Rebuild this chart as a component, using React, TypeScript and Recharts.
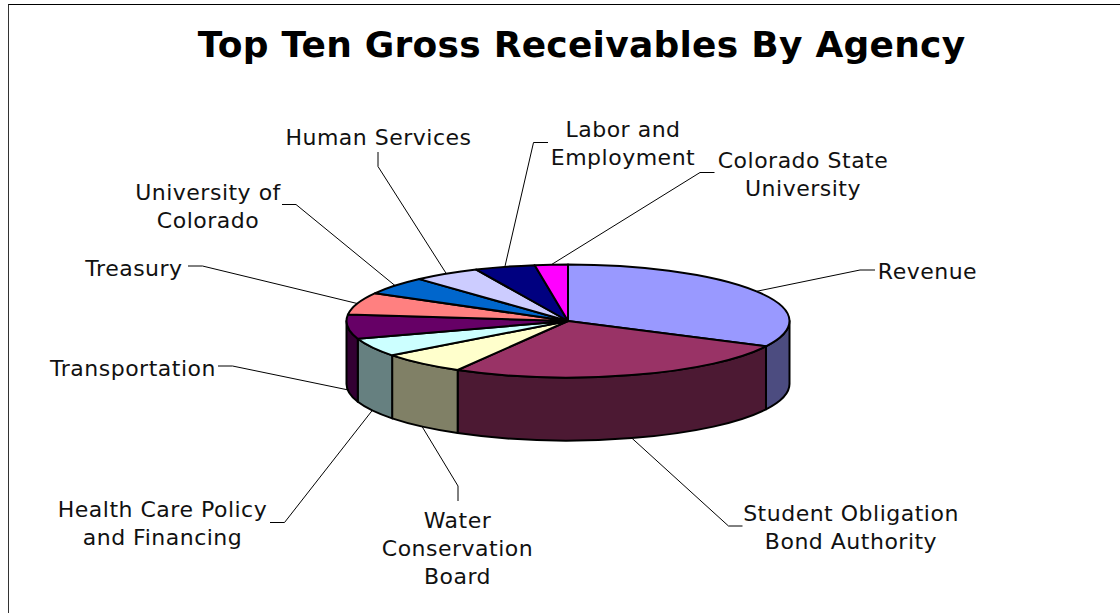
import { Pie, PieChart } from "recharts";

// Share of gross receivables by agency, in percent
const agencies = [
    "Revenue",
    "Student Obligation Bond Authority",
    "Water Conservation Board",
    "Health Care Policy and Financing",
    "Transportation",
    "Treasury",
    "University of Colorado",
    "Human Services",
    "Labor and Employment",
    "Colorado State University",
];
const shares = [32.4, 25.9, 6.3, 5.3, 6.9, 6.4, 5.1, 4.9, 4.4, 2.4];
const topColors = ["#9999FF", "#993366", "#FFFFCC", "#CCFFFF", "#660066", "#FF8080", "#0066CC", "#CCCCFF", "#000080", "#FF00FF"];
const sideColors = ["#4C4C80", "#4C1933", "#808066", "#668080", "#330033", "#804040", "#003366", "#666680", "#000040", "#800080"];

const data = agencies.map((name, i) => ({
    name,
    value: shares[i],
    fill: topColors[i],
    side: sideColors[i],
}));

// Wrapped label text, its centre and first baseline, and the leader's knee and end
const labelLayout = [
    { lines: ["Revenue"], x: 927.5, y: 279, knee: [860, 270], end: [875, 270] },
    { lines: ["Student Obligation", "Bond Authority"], x: 851, y: 520.5, knee: [728.5, 526], end: [742.5, 526] },
    { lines: ["Water", "Conservation", "Board"], x: 457.5, y: 528, knee: [458, 486], end: [458, 501] },
    { lines: ["Health Care Policy", "and Financing"], x: 162.5, y: 516.5, knee: [284.5, 522.5], end: [270, 522.5] },
    { lines: ["Transportation"], x: 133, y: 375.5, knee: [232.5, 366], end: [218, 366] },
    { lines: ["Treasury"], x: 134, y: 275.5, knee: [202.5, 266], end: [188, 266] },
    { lines: ["University of", "Colorado"], x: 208, y: 199.5, knee: [296, 204.5], end: [282, 204.5] },
    { lines: ["Human Services"], x: 378.5, y: 144.5, knee: [378, 166.5], end: [378, 152] },
    { lines: ["Labor and", "Employment"], x: 623, y: 136.5, knee: [533.5, 142.5], end: [548, 142.5] },
    { lines: ["Colorado State", "University"], x: 803, y: 168, knee: [700, 172.5], end: [714.5, 172.5] },
];

const FONT = "'DejaVu Sans', sans-serif";
const TILT = 56.5 / 221.5;
const DEPTH = 63;
const LINE_HEIGHT = 28;

const rad = (deg: number) => (deg * Math.PI) / 180;

function rim(cx: number, cy: number, r: number, deg: number, drop = 0) {
    return {
        x: cx + r * Math.cos(rad(deg)),
        y: cy - r * TILT * Math.sin(rad(deg)) + drop,
    };
}

// Flat top of a slice, squashed into an ellipse
function TopSlice({ cx, cy, outerRadius, startAngle, endAngle, fill }: any) {
    const a = rim(cx, cy, outerRadius, startAngle);
    const b = rim(cx, cy, outerRadius, endAngle);
    const large = startAngle - endAngle > 180 ? 1 : 0;
    const ry = outerRadius * TILT;
    return (
        <path
            d={`M${cx},${cy}L${a.x},${a.y}A${outerRadius},${ry} 0 ${large} 1 ${b.x},${b.y}Z`}
            fill={fill}
            stroke="#000"
            strokeWidth={2}
            strokeLinejoin="round"
        />
    );
}

// Outer wall of a slice, only the part on the front half of the rim shows
function WallSlice({ cx, cy, outerRadius, startAngle, endAngle, payload }: any) {
    const hi = Math.min(startAngle, 0);
    const lo = Math.max(endAngle, -180);
    if (hi <= lo) return null;
    const ry = outerRadius * TILT;
    const a = rim(cx, cy, outerRadius, hi);
    const b = rim(cx, cy, outerRadius, lo);
    const d = rim(cx, cy, outerRadius, hi, DEPTH);
    const c = rim(cx, cy, outerRadius, lo, DEPTH);
    return (
        <path
            d={`M${a.x},${a.y}A${outerRadius},${ry} 0 0 1 ${b.x},${b.y}L${c.x},${c.y}A${outerRadius},${ry} 0 0 0 ${d.x},${d.y}Z`}
            fill={payload.side}
            stroke="#000"
            strokeWidth={2}
            strokeLinejoin="round"
        />
    );
}

function SliceLabel({ cx, cy, outerRadius, midAngle, index }: any) {
    const spot = labelLayout[index];
    const inFront = Math.sin(rad(midAngle)) < 0;
    const from = rim(cx, cy, outerRadius, midAngle, inFront ? DEPTH : 0);
    return (
        <g>
            <polyline
                points={`${from.x},${from.y} ${spot.knee[0]},${spot.knee[1]} ${spot.end[0]},${spot.end[1]}`}
                fill="none"
                stroke="#000"
                strokeWidth={1}
            />
            <text x={spot.x} y={spot.y} textAnchor="middle" fontFamily={FONT} fontSize={22} letterSpacing={0.5} fill="#111">
                {spot.lines.map((line, i) => (
                    <tspan key={line} x={spot.x} y={spot.y + i * LINE_HEIGHT}>
                        {line}
                    </tspan>
                ))}
            </text>
        </g>
    );
}

export default function App() {
    return (
        <div style={{ position: "absolute", left: 0, top: 0, width: 1120, height: 613, background: "#fff", overflow: "hidden" }}>
            <div style={{ position: "absolute", left: 8, top: 4, right: 0, bottom: 0, borderTop: "1.5px solid #000", borderLeft: "1px solid #333" }} />
            <PieChart width={1120} height={613} margin={{ top: 0, right: 0, bottom: 0, left: 0 }} style={{ position: "absolute", left: 0, top: 0 }}>
                <text x={581.5} y={57} textAnchor="middle" fontFamily={FONT} fontWeight="bold" fontSize={36} letterSpacing={0.25} fill="#000">
                    Top Ten Gross Receivables By Agency
                </text>
                <Pie
                    data={data}
                    dataKey="value"
                    nameKey="name"
                    cx={568}
                    cy={321}
                    outerRadius={221.5}
                    startAngle={90}
                    endAngle={-270}
                    isAnimationActive={false}
                    shape={WallSlice}
                    inactiveShape={WallSlice}
                    rootTabIndex={-1}
                />
                <Pie
                    data={data}
                    dataKey="value"
                    nameKey="name"
                    cx={568}
                    cy={321}
                    outerRadius={221.5}
                    startAngle={90}
                    endAngle={-270}
                    isAnimationActive={false}
                    shape={TopSlice}
                    inactiveShape={TopSlice}
                    label={SliceLabel}
                    labelLine={false}
                    rootTabIndex={-1}
                />
            </PieChart>
        </div>
    );
}
